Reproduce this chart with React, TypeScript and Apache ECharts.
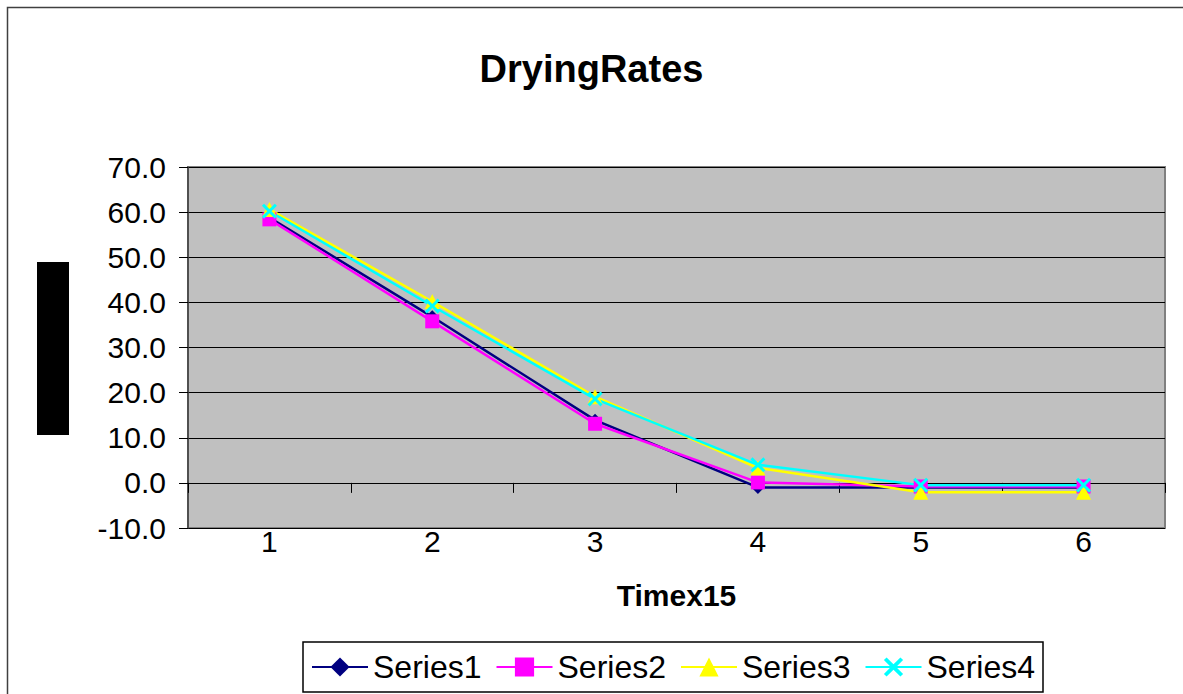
import React, { useEffect, useRef } from "react";
import * as echarts from "echarts";

const categories = ["1", "2", "3", "4", "5", "6"];
const series1 = [58.8, 36.8, 13.9, -1.0, -1.0, -1.0];
const series2 = [58.4, 35.8, 13.1, 0.1, -0.8, -0.8];
const series3 = [60.6, 40.2, 19.1, 3.3, -2.1, -2.1];
const series4 = [60.2, 39.2, 18.6, 4.0, -0.5, -0.5];
const seriesNames = ["Series1", "Series2", "Series3", "Series4"];

const FONT = "'Liberation Sans', Arial, sans-serif";
const X_SYMBOL =
  "path://M0,1.4L1.4,0L5,3.6L8.6,0L10,1.4L6.4,5L10,8.6L8.6,10L5,6.4L1.4,10L0,8.6L3.6,5Z";

export default function App() {
  const ref = useRef<HTMLDivElement>(null);
  useEffect(() => {
    if (!ref.current) return;
    const chart = echarts.init(ref.current, undefined, { renderer: "svg" });
    const mk = (
      name: string,
      data: number[],
      color: string,
      symbol: string,
      symbolSize: number
    ) => ({
      name,
      type: "line",
      data,
      xAxisIndex: 0,
      yAxisIndex: 0,
      symbol,
      symbolSize,
      showAllSymbol: true,
      lineStyle: { color, width: 2.5 },
      itemStyle: { color, borderWidth: 0 },
    });
    chart.setOption({
      animation: false,
      backgroundColor: "#ffffff",
      textStyle: { fontFamily: FONT },
      title: {
        text: "DryingRates",
        left: "center",
        top: 45,
        textStyle: { fontFamily: FONT, fontSize: 38, fontWeight: "bold", color: "#000" },
      },
      grid: {
        left: 188,
        top: 167,
        right: 18,
        bottom: 166,
        show: true,
        backgroundColor: "#C0C0C0",
        borderColor: "#808080",
        borderWidth: 2,
        containLabel: false,
      },
      legend: {
        data: seriesNames,
        left: 303,
        top: 642,
        orient: "horizontal",
        borderColor: "#000",
        borderWidth: 1.5,
        padding: [9, 8, 9, 8],
        itemGap: 14,
        itemWidth: 56,
        itemHeight: 24,
        textStyle: { fontFamily: FONT, fontSize: 32, color: "#000" },
      },
      xAxis: [
        {
          type: "category",
          data: categories,
          boundaryGap: true,
          position: "bottom",
          axisLine: { show: false, onZero: false },
          axisTick: { show: false },
          axisLabel: { fontFamily: FONT, fontSize: 30, color: "#000", margin: -2 },
          name: "Timex15",
          nameLocation: "middle",
          nameGap: 52,
          nameTextStyle: { fontFamily: FONT, fontSize: 30, fontWeight: "bold", color: "#000" },
          splitLine: { show: false },
        },
        {
          type: "category",
          data: categories,
          boundaryGap: true,
          position: "bottom",
          axisLine: { show: true, onZero: true, lineStyle: { color: "#000", width: 1 } },
          axisTick: { show: true, length: 10, interval: 0, lineStyle: { color: "#000" } },
          axisLabel: { show: false },
          splitLine: { show: false },
        },
      ],
      yAxis: {
        type: "value",
        min: -10,
        max: 70,
        interval: 10,
        axisLine: { show: true, lineStyle: { color: "#404040", width: 1.5 } },
        axisTick: { show: true, length: 9, lineStyle: { color: "#000" } },
        axisLabel: {
          fontFamily: FONT,
          fontSize: 30,
          color: "#000",
          margin: 22,
          formatter: (v: number) => v.toFixed(1),
        },
        splitLine: { show: true, lineStyle: { color: "#000", width: 1 } },
      },
      graphic: [
        {
          type: "rect",
          shape: { x: 7.5, y: 7.5, width: 1200, height: 720 },
          style: { fill: "none", stroke: "#404040", lineWidth: 1.5 },
          silent: true,
          z: 100,
        },
        {
          type: "rect",
          shape: { x: 37, y: 262, width: 32, height: 173 },
          style: { fill: "#000" },
          silent: true,
        },
      ],
      series: [
        mk(seriesNames[0], series1, "#000080", "diamond", 13),
        mk(seriesNames[1], series2, "#FF00FF", "rect", 14),
        mk(seriesNames[2], series3, "#FFFF00", "triangle", 15),
        mk(seriesNames[3], series4, "#00FFFF", X_SYMBOL, 15),
      ],
    });
    return () => chart.dispose();
  }, []);
  return (
    <div
      ref={ref}
      style={{ position: "absolute", left: 0, top: 0, width: 1183, height: 694 }}
    />
  );
}
